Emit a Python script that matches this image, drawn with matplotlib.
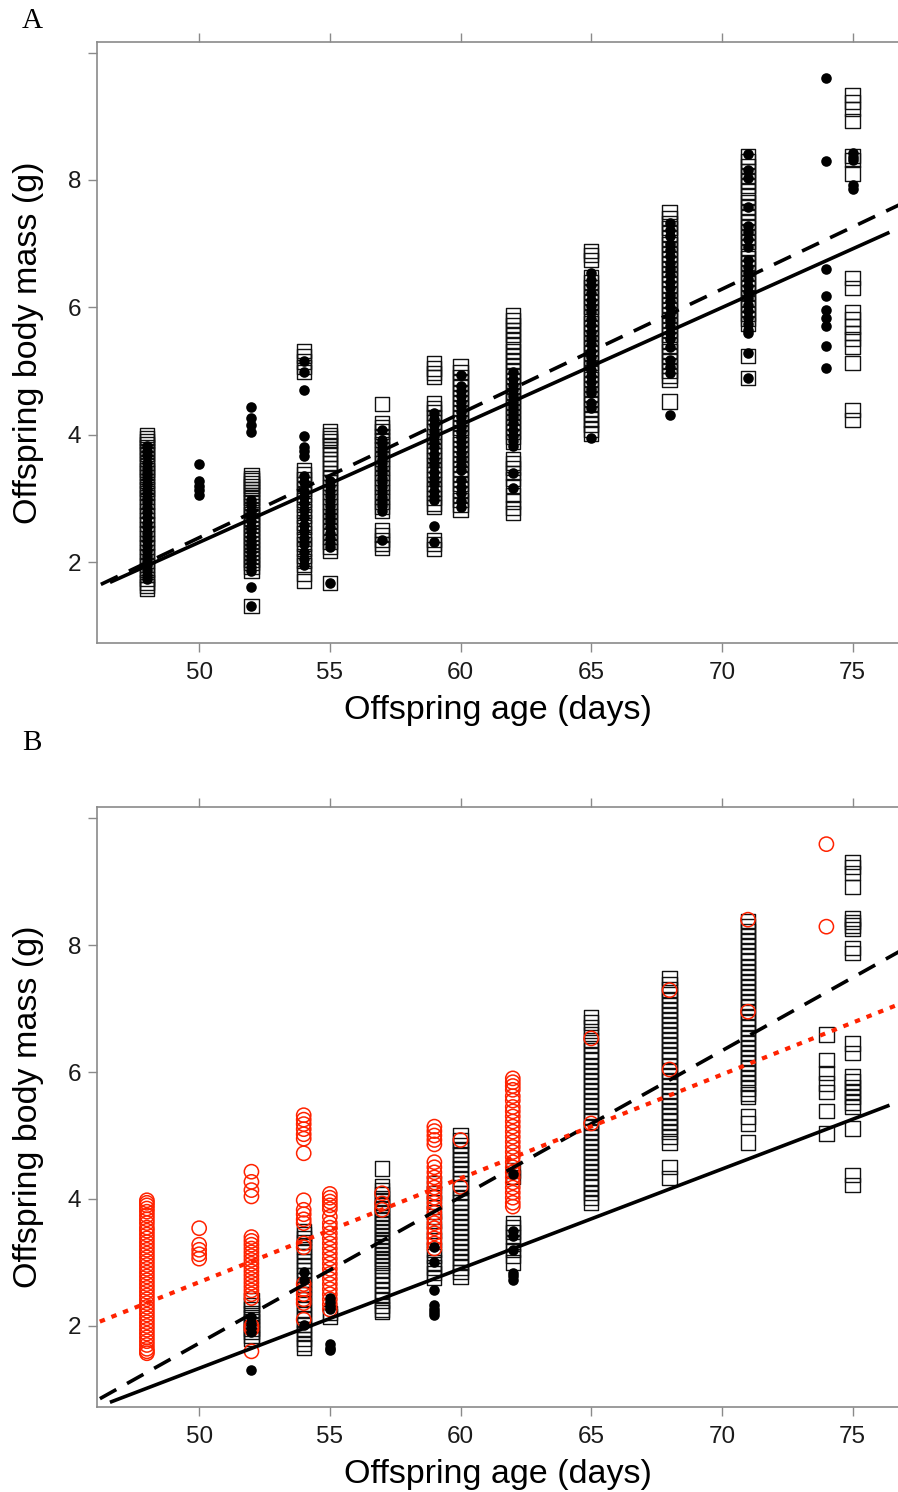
import numpy as np
import matplotlib.pyplot as plt

# offspring body mass (g) by offspring age (days)
# panel A: open squares / filled circles
a_squares = {
    48: [4.00, 3.95, 3.90, 3.86, 3.80, 3.74, 3.70, 3.62, 3.55, 3.50, 3.44, 3.40, 3.33,
         3.27, 3.20, 3.15, 3.08, 3.02, 2.95, 2.88, 2.80, 2.74, 2.66, 2.60, 2.52, 2.45,
         2.38, 2.30, 2.24, 2.16, 2.10, 2.02, 1.95, 1.88, 1.80, 1.74, 1.68, 1.62, 1.58],
    52: [3.37, 3.32, 3.28, 3.24, 3.20, 3.15, 3.10, 3.05, 3.00, 2.94, 2.88, 2.82, 2.76,
         2.70, 2.64, 2.58, 2.52, 2.46, 2.40, 2.34, 2.28, 2.22, 2.16, 2.10, 2.04, 1.98,
         1.92, 1.86, 1.31],
    54: [5.32, 5.24, 5.15, 5.06, 4.98, 3.45, 3.38, 3.30, 3.22, 3.15, 3.06, 2.98, 2.90,
         2.80, 2.72, 2.62, 2.55, 2.45, 2.36, 2.28, 2.20, 2.10, 2.02, 1.95, 1.82, 1.70],
    55: [4.05, 4.00, 3.95, 3.90, 3.84, 3.78, 3.70, 3.62, 3.55, 3.48, 3.40, 3.32, 3.25,
         3.18, 3.10, 3.02, 2.95, 2.88, 2.80, 2.72, 2.64, 2.56, 2.48, 2.40, 2.32, 2.24,
         2.17, 1.67],
    57: [4.48, 4.18, 4.12, 4.05, 3.98, 3.92, 3.85, 3.78, 3.70, 3.62, 3.55, 3.48, 3.40,
         3.32, 3.25, 3.18, 3.10, 3.02, 2.95, 2.87, 2.80, 2.50, 2.42, 2.35, 2.28, 2.22],
    59: [5.12, 5.04, 4.97, 4.91, 4.49, 4.42, 4.35, 4.28, 4.20, 4.12, 4.05, 3.98, 3.90,
         3.82, 3.75, 3.68, 3.60, 3.52, 3.45, 3.38, 3.30, 3.22, 3.15, 3.08, 3.00, 2.92,
         2.87, 2.35, 2.28, 2.20],
    60: [5.07, 4.98, 4.90, 4.82, 4.74, 4.66, 4.58, 4.50, 4.42, 4.34, 4.26, 4.18, 4.10,
         4.02, 3.94, 3.86, 3.78, 3.70, 3.62, 3.54, 3.46, 3.38, 3.30, 3.22, 3.14, 3.06,
         2.98, 2.90, 2.82],
    62: [5.87, 5.80, 5.72, 5.64, 5.56, 5.48, 5.40, 5.32, 5.24, 5.16, 5.08, 5.00, 4.92,
         4.84, 4.76, 4.68, 4.60, 4.52, 4.44, 4.36, 4.28, 4.20, 4.12, 4.04, 3.96, 3.88,
         3.62, 3.55, 3.48, 3.40, 3.30, 3.20, 3.05, 2.95, 2.85, 2.77],
    65: [6.89, 6.82, 6.74, 6.48, 6.40, 6.32, 6.24, 6.16, 6.08, 6.00, 5.92, 5.84, 5.76,
         5.68, 5.60, 5.52, 5.44, 5.36, 5.28, 5.20, 5.12, 5.04, 4.96, 4.88, 4.80, 4.72,
         4.64, 4.56, 4.48, 4.40, 4.32, 4.24, 4.16, 4.08, 4.02],
    68: [7.50, 7.40, 7.32, 7.24, 7.16, 7.08, 7.00, 6.92, 6.84, 6.76, 6.68, 6.60, 6.52,
         6.44, 6.36, 6.28, 6.20, 6.12, 6.04, 5.96, 5.88, 5.80, 5.72, 5.64, 5.56, 5.48,
         5.40, 5.32, 5.24, 5.16, 5.08, 5.00, 4.92, 4.86, 4.52],
    71: [8.37, 8.30, 8.22, 8.14, 8.06, 7.98, 7.90, 7.82, 7.74, 7.66, 7.58, 7.50, 7.42,
         7.34, 7.26, 7.18, 7.10, 7.02, 6.94, 6.86, 6.78, 6.70, 6.62, 6.54, 6.46, 6.38,
         6.30, 6.22, 6.14, 6.06, 5.98, 5.90, 5.82, 5.74, 5.23, 4.89],
    75: [9.33, 9.23, 9.12, 8.92, 8.38, 8.31, 8.10, 6.46, 6.30, 5.93, 5.82, 5.70, 5.60,
         5.50, 5.38, 5.12, 4.39, 4.23],
}
a_dots = {
    48: [3.82, 3.74, 3.68, 3.55, 3.48, 3.42, 3.36, 3.30, 3.22, 3.15, 3.08, 3.00, 2.94,
         2.86, 2.78, 2.70, 2.62, 2.55, 2.46, 2.40, 2.33, 2.25, 2.18, 2.10, 2.02, 1.96,
         1.88, 1.80, 1.74],
    50: [3.54, 3.28, 3.20, 3.13, 3.06],
    52: [4.43, 4.26, 4.15, 4.05, 2.98, 2.90, 2.80, 2.72, 2.64, 2.55, 2.48, 2.40, 2.32,
         2.25, 2.16, 2.08, 2.00, 1.92, 1.86, 1.61, 1.31],
    54: [5.15, 4.99, 4.70, 3.98, 3.80, 3.74, 3.66, 3.35, 3.25, 3.12, 3.02, 2.92, 2.82,
         2.70, 2.58, 2.48, 2.38, 2.28, 2.16, 2.05, 1.96],
    55: [3.28, 3.20, 3.12, 3.04, 2.96, 2.88, 2.80, 2.72, 2.64, 2.55, 2.46, 2.38, 2.30,
         2.24, 1.67],
    57: [4.08, 3.92, 3.85, 3.78, 3.70, 3.62, 3.55, 3.48, 3.40, 3.32, 3.25, 3.18, 3.10,
         3.02, 2.95, 2.88, 2.80, 2.35],
    59: [4.34, 4.25, 4.15, 4.06, 3.98, 3.88, 3.80, 3.70, 3.62, 3.52, 3.42, 3.32, 3.22,
         3.12, 3.04, 2.98, 2.56, 2.32],
    60: [4.94, 4.76, 4.68, 4.60, 4.52, 4.44, 4.36, 4.28, 4.20, 4.12, 4.04, 3.96, 3.88,
         3.80, 3.72, 3.62, 3.52, 3.45, 3.29, 3.18, 3.08, 2.96, 2.87],
    62: [4.98, 4.88, 4.78, 4.70, 4.60, 4.52, 4.44, 4.36, 4.28, 4.18, 4.08, 3.98, 3.90,
         3.82, 3.40, 3.16],
    65: [6.54, 6.43, 6.35, 6.22, 6.12, 6.02, 5.92, 5.82, 5.72, 5.62, 5.52, 5.42, 5.32,
         5.22, 5.12, 5.02, 4.92, 4.82, 4.72, 4.65, 4.50, 4.42, 3.95],
    68: [7.32, 7.22, 7.12, 7.00, 6.90, 6.80, 6.70, 6.60, 6.50, 6.40, 6.30, 6.20, 6.10,
         6.00, 5.90, 5.80, 5.70, 5.60, 5.50, 5.38, 5.17, 5.07, 4.97, 4.31],
    71: [8.40, 8.16, 8.03, 7.58, 7.27, 7.18, 7.08, 6.95, 6.74, 6.64, 6.54, 6.44, 6.34,
         6.24, 6.14, 6.04, 5.94, 5.84, 5.74, 5.64, 5.59, 5.29, 4.89],
    74: [9.60, 8.30, 6.60, 6.18, 5.96, 5.83, 5.71, 5.39, 5.04],
    75: [8.42, 8.36, 8.31, 7.92, 7.86],
}

# panel B: open squares / red circles / filled circles
b_squares = {
    52: [2.40, 2.33, 2.26, 2.20, 2.14, 2.08, 2.02, 1.96, 1.90, 1.84, 1.80],
    54: [3.50, 3.44, 3.38, 3.32, 3.25, 3.18, 3.10, 3.02, 2.95, 2.88, 2.80, 2.72, 2.65,
         2.58, 2.50, 2.42, 2.34, 2.26, 2.18, 2.10, 2.02, 1.95, 1.88, 1.80, 1.72, 1.66],
    55: [2.20, 2.15],
    57: [4.48, 4.20, 4.14, 4.08, 4.02, 3.96, 3.90, 3.84, 3.78, 3.72, 3.66, 3.60, 3.54,
         3.48, 3.42, 3.36, 3.30, 3.24, 3.18, 3.12, 3.06, 3.00, 2.94, 2.88, 2.80, 2.72,
         2.64, 2.56, 2.48, 2.40, 2.32, 2.26, 2.22],
    59: [4.25, 4.10, 3.95, 3.80, 3.65, 3.50, 3.35, 3.20, 3.10, 3.00, 2.92, 2.84, 2.76],
    60: [5.00, 4.92, 4.85, 4.78, 4.70, 4.62, 4.55, 4.48, 4.40, 4.32, 4.25, 4.18, 4.10,
         4.02, 3.95, 3.88, 3.80, 3.72, 3.64, 3.56, 3.48, 3.40, 3.32, 3.24, 3.16, 3.08,
         3.00, 2.92, 2.85, 2.78],
    62: [4.45, 4.35, 3.62, 3.55, 3.48, 3.40, 3.30, 3.20, 3.10, 3.00],
    65: [6.87, 6.78, 6.70, 6.60, 6.50, 6.42, 6.34, 6.26, 6.18, 6.10, 6.02, 5.94, 5.86,
         5.78, 5.70, 5.62, 5.54, 5.46, 5.38, 5.30, 5.22, 5.14, 5.06, 4.98, 4.90, 4.82,
         4.74, 4.66, 4.58, 4.50, 4.42, 4.34, 4.26, 4.18, 4.10, 4.02, 3.94],
    68: [7.48, 7.38, 7.30, 7.22, 7.14, 7.06, 6.98, 6.90, 6.82, 6.74, 6.66, 6.58, 6.50,
         6.42, 6.34, 6.26, 6.18, 6.10, 6.02, 5.94, 5.86, 5.78, 5.70, 5.62, 5.54, 5.46,
         5.38, 5.30, 5.22, 5.14, 5.06, 4.98, 4.88, 4.51, 4.33],
    71: [8.38, 8.30, 8.22, 8.14, 8.06, 7.98, 7.90, 7.82, 7.74, 7.66, 7.58, 7.50, 7.42,
         7.34, 7.26, 7.18, 7.10, 7.02, 6.94, 6.86, 6.78, 6.70, 6.62, 6.54, 6.46, 6.38,
         6.30, 6.22, 6.14, 6.06, 5.98, 5.90, 5.82, 5.74, 5.66, 5.61, 5.30, 5.19, 4.89],
    74: [6.59, 6.19, 5.98, 5.82, 5.69, 5.39, 5.03],
    75: [9.31, 9.23, 9.13, 8.92, 8.42, 8.36, 8.31, 8.25, 7.95, 7.87, 6.45, 6.30, 5.93,
         5.85, 5.77, 5.68, 5.61, 5.52, 5.45, 5.11, 4.38, 4.22],
}
b_red = {
    48: [3.98, 3.94, 3.90, 3.85, 3.80, 3.74, 3.68, 3.62, 3.55, 3.50, 3.44, 3.38, 3.32,
         3.26, 3.20, 3.14, 3.08, 3.02, 2.96, 2.90, 2.84, 2.78, 2.72, 2.66, 2.60, 2.54,
         2.48, 2.42, 2.36, 2.30, 2.24, 2.18, 2.12, 2.06, 2.00, 1.94, 1.88, 1.82, 1.76,
         1.70, 1.64, 1.60, 1.57],
    50: [3.54, 3.28, 3.20, 3.13, 3.06],
    52: [4.43, 4.27, 4.14, 4.04, 3.40, 3.34, 3.28, 3.22, 3.16, 3.10, 3.04, 2.98, 2.92,
         2.86, 2.80, 2.74, 2.68, 2.62, 2.56, 2.50, 2.44, 2.00, 1.95, 1.60],
    54: [5.32, 5.25, 5.18, 5.10, 5.02, 4.95, 4.72, 3.98, 3.83, 3.76, 3.68, 3.62, 3.30,
         3.24, 2.66, 2.58, 2.50, 2.42, 2.36, 2.10],
    55: [4.08, 4.02, 3.96, 3.90, 3.84, 3.72, 3.62, 3.55, 3.46, 3.38, 3.30, 3.22, 3.14,
         3.06, 2.98, 2.90, 2.82, 2.74, 2.66, 2.58, 2.50, 2.42, 2.34, 2.26],
    57: [4.09, 3.93, 3.83],
    59: [5.14, 5.07, 5.00, 4.93, 4.86, 4.58, 4.50, 4.42, 4.34, 4.26, 4.18, 4.10, 4.02,
         3.94, 3.86, 3.78, 3.70, 3.62, 3.54, 3.46, 3.38, 3.30, 3.22],
    60: [4.93, 4.19],
    62: [5.90, 5.84, 5.78, 5.72, 5.62, 5.55, 5.45, 5.38, 5.30, 5.22, 5.14, 5.06, 4.98,
         4.90, 4.82, 4.74, 4.66, 4.58, 4.50, 4.42, 4.34, 4.26, 4.18, 4.10, 4.02, 3.94,
         3.88],
    65: [6.53, 5.19],
    68: [7.29, 6.04],
    71: [8.40, 6.95],
    74: [9.59, 8.29],
}
b_dots = {
    52: [2.14, 2.05, 1.98, 1.90, 1.30],
    54: [2.85, 2.72, 2.02],
    55: [2.44, 2.38, 2.32, 2.27, 1.72, 1.66, 1.62],
    59: [3.25, 3.01, 2.57, 2.33, 2.27, 2.22, 2.17],
    62: [4.40, 3.50, 3.42, 3.20, 2.84, 2.78, 2.73],
}

# fitted lines (intercept, slope)
a_solid = (-6.905, 0.1843)
a_dashed = (-7.372, 0.1951)
b_solid = (-6.512, 0.1569)
b_dashed = (-9.786, 0.2303)
b_dotted = (-5.485, 0.1635)

x_ticks = [50, 55, 60, 65, 70, 75]
y_ticks = [2, 4, 6, 8, 10]
y_ticklabels = ['2', '4', '6', '8', '']

RED = '#ff2200'
GREY = '#8a8a8a'


def flat(groups):
    xs, ys = [], []
    for day, vals in groups.items():
        xs += [day] * len(vals)
        ys += vals
    return np.array(xs), np.array(ys)


def style_axes(ax, ylim):
    ax.set_xlim(46.09, 76.74)
    ax.set_ylim(*ylim)
    ax.spines['right'].set_visible(False)
    for s in ('left', 'top', 'bottom'):
        ax.spines[s].set_color(GREY)
        ax.spines[s].set_linewidth(1.2)
    ax.set_xticks(x_ticks)
    ax.set_yticks(y_ticks)
    ax.set_yticklabels(y_ticklabels)
    ax.tick_params(axis='both', direction='out', length=6.5, width=1.0,
                   color=GREY, labelsize=17.5, labelcolor='#1a1a1a')
    ax.tick_params(axis='x', top=True, labeltop=False, pad=7)
    ax.tick_params(axis='y', pad=5)
    ax.set_xlabel('Offspring age (days)', fontsize=24.5, labelpad=8)
    ax.set_ylabel('Offspring body mass (g)', fontsize=24.5, labelpad=17)


def fit_line(ax, coef, **kw):
    xx = np.array(ax.get_xlim())
    ax.plot(xx, coef[0] + coef[1] * xx, **kw)


plt.rcParams['font.family'] = ['Liberation Sans', 'DejaVu Sans']

fig = plt.figure(figsize=(8.98, 14.92), dpi=100)
ax_a = fig.add_axes([0.108, 0.5692, 0.892, 0.4028])
ax_b = fig.add_axes([0.108, 0.0570, 0.892, 0.4019])

# panel A
x, y = flat(a_squares)
ax_a.scatter(x, y, marker='s', s=105, facecolors='none', edgecolors='#111111',
             linewidths=1.0, zorder=2)
x, y = flat(a_dots)
ax_a.scatter(x, y, marker='o', s=58, color='black', linewidths=0, zorder=3)
fit_line(ax_a, a_solid, color='black', lw=2.6, zorder=4)
fit_line(ax_a, a_dashed, color='black', lw=2.6, dashes=(5.2, 3.4), zorder=4)
style_axes(ax_a, (0.733, 10.17))

# panel B
x, y = flat(b_squares)
ax_b.scatter(x, y, marker='s', s=105, facecolors='none', edgecolors='#111111',
             linewidths=1.0, zorder=2)
x, y = flat(b_red)
ax_b.scatter(x, y, marker='o', s=105, facecolors='none', edgecolors=RED,
             linewidths=1.1, zorder=3)
x, y = flat(b_dots)
ax_b.scatter(x, y, marker='o', s=58, color='black', linewidths=0, zorder=3)
fit_line(ax_b, b_solid, color='black', lw=2.6, zorder=4)
fit_line(ax_b, b_dashed, color='black', lw=2.6, dashes=(5.2, 3.4), zorder=4)
fit_line(ax_b, b_dotted, color=RED, lw=3.0, dashes=(1.3, 1.7), zorder=4)
style_axes(ax_b, (0.724, 10.17))

fig.text(32 / 898, 1 - 21 / 1492, 'A', fontsize=21, family='Liberation Serif',
         ha='center', va='center')
fig.text(32 / 898, 1 - 743 / 1492, 'B', fontsize=21, family='Liberation Serif',
         ha='center', va='center')

fig.savefig('out.png', dpi=100)
